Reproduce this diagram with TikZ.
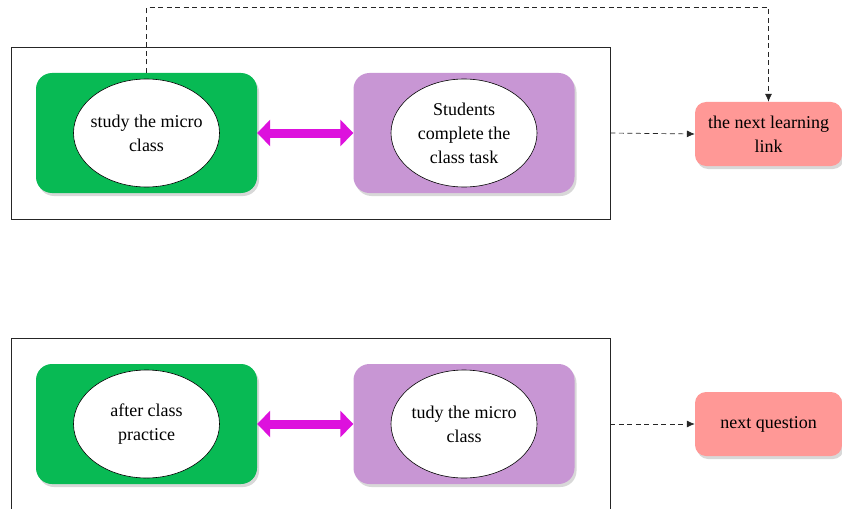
\documentclass[tikz,border=0pt]{standalone}
\usepackage{fontspec}
\setmainfont{Liberation Serif}
\usetikzlibrary{arrows.meta, shapes.geometric, shadows, positioning}

\definecolor{boxgreen}{HTML}{08BA54}
\definecolor{boxpurple}{HTML}{C896D4}
\definecolor{boxpink}{HTML}{FF9896}
\definecolor{swapcol}{HTML}{DD11DD}

\begin{document}
\begin{tikzpicture}[x=1pt, y=-1pt,
	frame/.style={draw=black!85, line width=0.9pt, minimum width=599pt, inner sep=0pt},
	card/.style={rectangle, rounded corners=16pt, minimum width=221pt, minimum height=120pt, inner sep=0pt,
		drop shadow={shadow xshift=2pt, shadow yshift=-3pt, fill=black!30, opacity=.5}},
	greenbox/.style={card, fill=boxgreen},
	purplebox/.style={card, fill=boxpurple},
	bubble/.style={ellipse, draw, fill=white, line width=0.6pt, minimum width=146pt, minimum height=108pt,
		inner xsep=-8pt, inner ysep=0pt, align=center, font=\fontsize{18}{24}\selectfont},
	target/.style={rectangle, rounded corners=11pt, fill=boxpink, minimum width=147pt, minimum height=64pt,
		inner sep=0pt, align=center, font=\fontsize{18}{24}\selectfont,
		drop shadow={shadow xshift=2pt, shadow yshift=-3pt, fill=black!30, opacity=.5}},
	swap/.style={swapcol, line width=9pt, {Triangle[length=13pt, width=26pt]}-{Triangle[length=13pt, width=26pt]}},
	flow/.style={dash pattern=on 5pt off 3.5pt, line width=0.7pt, black!85, -{Latex[length=8pt, width=7pt]}}]

	\useasboundingbox (0,0) rectangle (842,508);

	% Top row
	\node[frame, minimum height=172pt] (frameA) at (310.5,133) {};
	\node[greenbox] (greenA) at (146.5,133) {};
	\node[bubble] (study) at (greenA) {study the micro\\class};
	\node[purplebox] (purpleA) at (464,133) {};
	\node[bubble] (task) at (purpleA) {Students\\complete the\\class task};
	\draw[swap] (greenA.east) -- (purpleA.west);
	\node[target] (link) at (768.5,134) {the next learning\\link};
	\draw[flow] (frameA.east) -- (link.west);
	\draw[flow] (greenA.north) -- ++(0,-65) -| (link.north);

	% Bottom row
	\node[frame, minimum height=184pt] (frameB) at (310.5,430) {};
	\node[greenbox] (greenB) at (146.5,424) {};
	\node[bubble] (practice) at (greenB) {after class\\practice};
	\node[purplebox] (purpleB) at (464,424) {};
	\node[bubble] (micro) at (purpleB) {tudy the micro\\class};
	\draw[swap] (greenB.east) -- (purpleB.west);
	\node[target] (question) at (768.5,424) {next question};
	\draw[flow] (purpleB.east -| frameB.east) -- (question.west);
\end{tikzpicture}
\end{document}
